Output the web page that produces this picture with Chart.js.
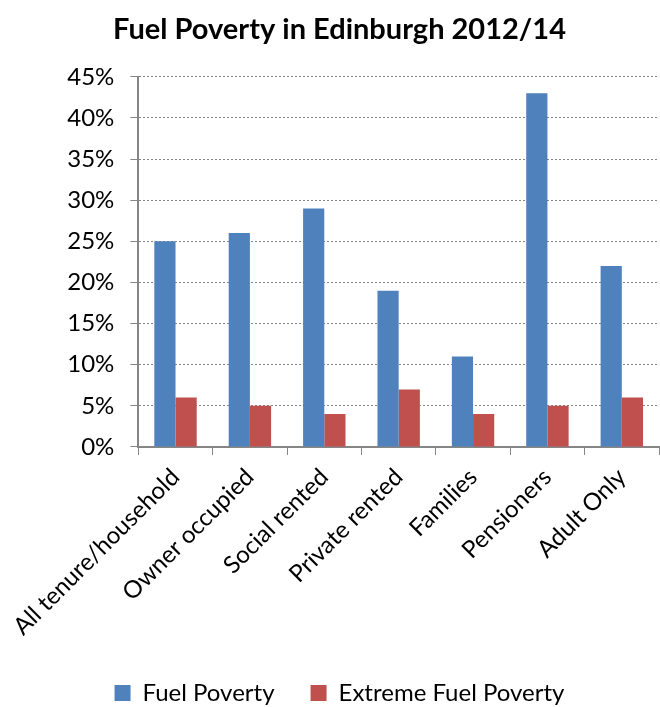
<!DOCTYPE html>
<html>
<head>
<meta charset="utf-8">
<script src="https://cdn.jsdelivr.net/npm/chart.js@4"></script>
<style>
  html, body { margin: 0; padding: 0; background: #fff; }
  #wrap { width: 660px; height: 707px; }
</style>
</head>
<body>
<div id="wrap"><canvas id="fuelChart"></canvas></div>
<script>
const categories = ['All tenure/household', 'Owner occupied', 'Social rented', 'Private rented', 'Families', 'Pensioners', 'Adult Only'];
const fuelPoverty = [25, 26, 29, 19, 11, 43, 22];
const extremeFuelPoverty = [6, 5, 4, 7, 4, 5, 6];

const font = 'Lato, "Open Sans", sans-serif';

const ctx = document.getElementById('fuelChart').getContext('2d');
new Chart(ctx, {
    type: 'bar',
    data: {
        labels: categories,
        datasets: [{
            label: 'Fuel Poverty',
            data: fuelPoverty,
            backgroundColor: '#4F81BD',
            categoryPercentage: 0.57,
            barPercentage: 1
        }, {
            label: 'Extreme Fuel Poverty',
            data: extremeFuelPoverty,
            backgroundColor: '#C0504D',
            categoryPercentage: 0.57,
            barPercentage: 1
        }]
    },
    options: {
        responsive: true,
        maintainAspectRatio: false,
        animation: false,
        layout: { padding: { left: 20, right: 1, top: 0, bottom: -8 } },
        plugins: {
            title: {
                display: true,
                text: 'Fuel Poverty in Edinburgh 2012/14',
                color: '#000',
                font: { family: font, size: 29, weight: 'bold' },
                padding: { top: 12, bottom: 30 }
            },
            legend: {
                position: 'bottom',
                labels: {
                    color: '#000',
                    font: { family: font, size: 24 },
                    boxWidth: 16,
                    boxHeight: 16,
                    padding: 36
                }
            },
            tooltip: { enabled: false }
        },
        scales: {
            x: {
                offset: true,
                afterFit: axis => { axis.height -= 4; },
                grid: {
                    offset: true,
                    drawOnChartArea: false,
                    color: '#868686',
                    tickLength: 8
                },
                border: { color: '#868686', width: 2 },
                ticks: {
                    color: '#000',
                    font: { family: font, size: 24 },
                    maxRotation: 45,
                    minRotation: 45,
                    padding: 8
                }
            },
            y: {
                min: 0,
                max: 45,
                afterFit: axis => { axis.width = 118; },
                grid: {
                    color: '#868686',
                    tickColor: '#868686',
                    tickLength: 8,
                    tickBorderDash: []
                },
                border: { color: '#868686', width: 2, dash: [2, 2] },
                ticks: {
                    stepSize: 5,
                    color: '#000',
                    font: { family: font, size: 24 },
                    padding: 16,
                    callback: v => v + '%'
                }
            }
        }
    }
});
</script>
</body>
</html>
